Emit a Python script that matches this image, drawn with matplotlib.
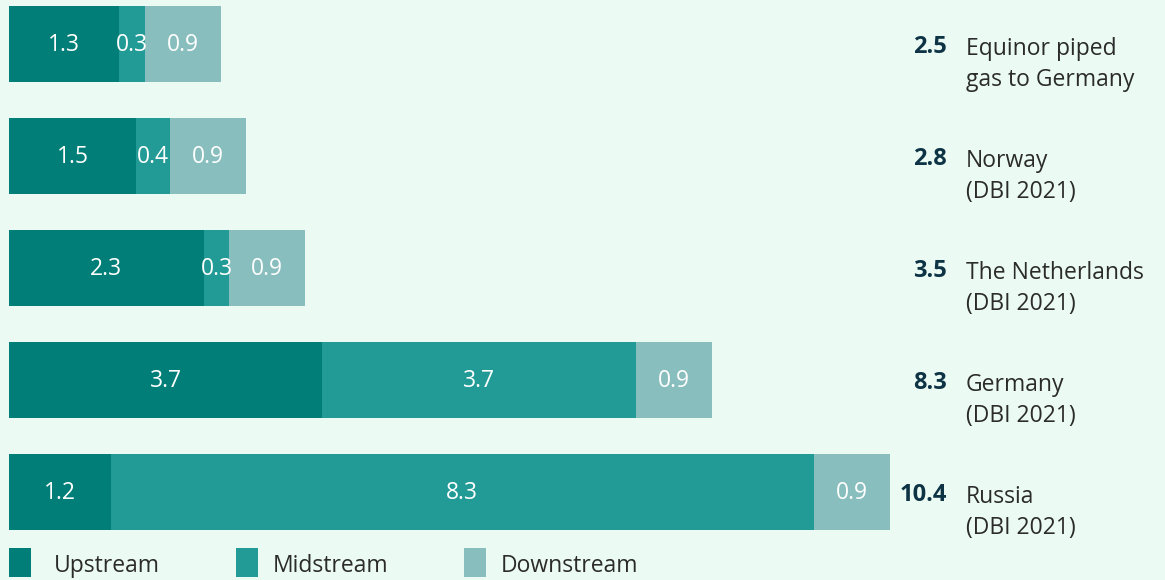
import numpy as np
from matplotlib import pyplot as plt
from matplotlib.patches import Rectangle

# chart values
categories = ['Equinor piped\ngas to Germany', 'Norway\n(DBI 2021)', 'The Netherlands\n(DBI 2021)',
              'Germany\n(DBI 2021)', 'Russia\n(DBI 2021)']
upstream = [1.3, 1.5, 2.3, 3.7, 1.2]
midstream = [0.3, 0.4, 0.3, 3.7, 8.3]
downstream = [0.9, 0.9, 0.9, 0.9, 0.9]
totals = [2.5, 2.8, 3.5, 8.3, 10.4]
series_names = ['Upstream', 'Midstream', 'Downstream']

BG = '#EBFBF3'
COLORS = ['#017E77', '#229B97', '#88BEBD']
DARK = '#0E3345'
TEXT = '#2B2B2B'

plt.rcParams['font.family'] = ['Open Sans', 'DejaVu Sans']

fig = plt.figure(figsize=(11.65, 5.8), dpi=100, facecolor=BG)
ax = fig.add_axes([0, 0, 1, 1])
ax.set_facecolor(BG)

px = 84.7  # pixels per unit
ax.set_xlim(-9 / px, (1165 - 9) / px)
ax.set_ylim((580 - 44) / 112, -44 / 112)
ax.axis('off')

y = np.arange(len(categories))
left = np.zeros(len(categories))
for vals, color in zip([upstream, midstream, downstream], COLORS):
    vals = np.array(vals)
    ax.barh(y, vals, left=left, height=0.67, color=color, edgecolor='none')
    for yi, l, v in zip(y, left, vals):
        ax.text(l + v / 2, yi + 0.01, f'{v:.1f}', ha='center', va='center',
                color='white', fontsize=16.5)
    left = left + vals

for yi, t, cat in zip(y, totals, categories):
    ax.text(11.07, yi + 0.03, f'{t:.1f}', ha='right', va='center',
            color=DARK, fontsize=17, fontweight='bold')
    ax.text(11.30, yi + 0.18, cat, ha='left', va='center', color=TEXT,
            fontsize=16.5, linespacing=1.4)

# legend, drawn by hand in figure pixels
W, H = 1165, 580
for name, color, sx, tx in zip(series_names, COLORS, [9, 236, 464], [54, 273, 501]):
    fig.patches.append(Rectangle((sx / W, 3 / H), 22 / W, 29 / H, transform=fig.transFigure,
                                 facecolor=color, edgecolor='none'))
    fig.text(tx / W, 1 - 566 / H, name, ha='left', va='center', color=TEXT, fontsize=16.5)

fig.savefig('out.png', dpi=100, facecolor=BG)
